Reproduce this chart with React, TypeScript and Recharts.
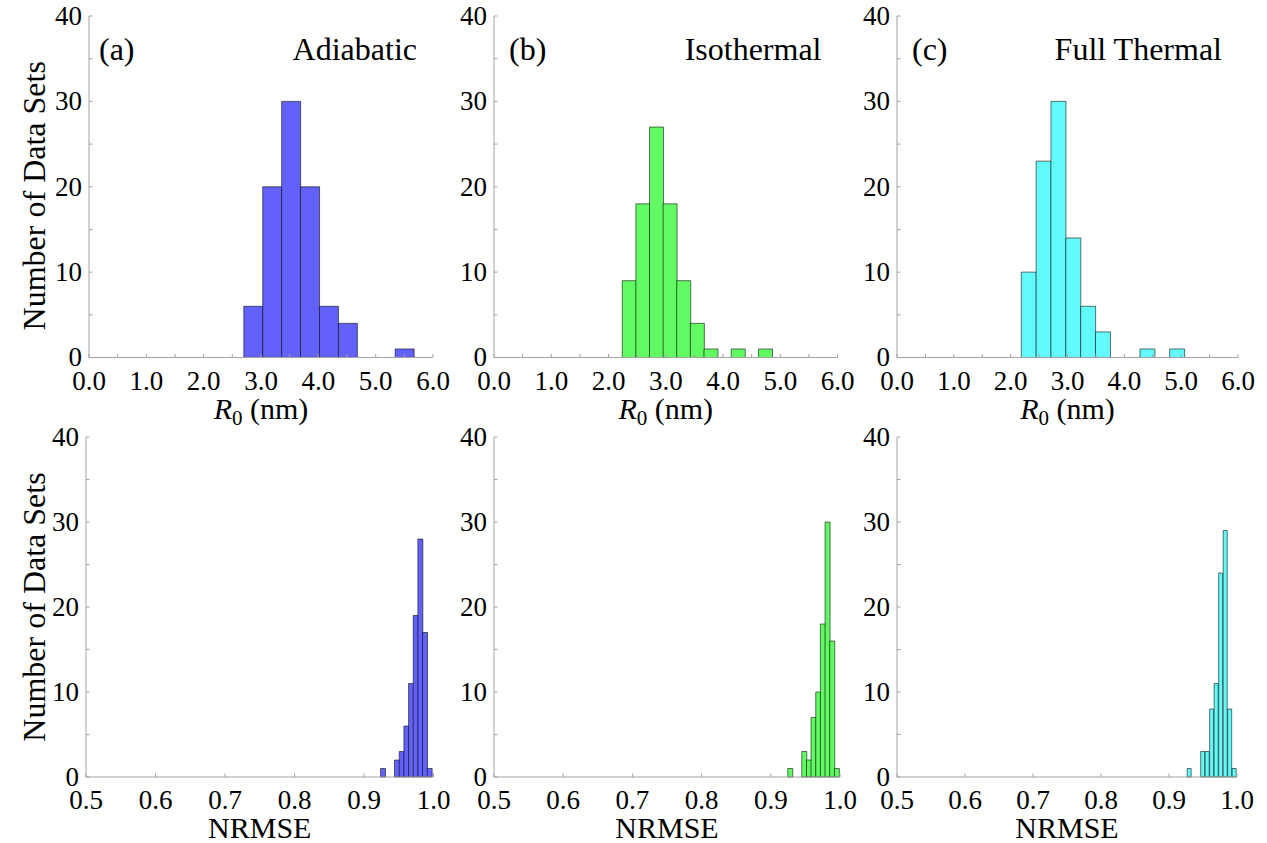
import { BarChart, Bar, XAxis, YAxis } from "recharts"

// bin edges and counts
const adiabaticR0Edges = [2.7, 3.03, 3.36, 3.69, 4.02, 4.35, 4.68, 5.01, 5.34, 5.67]
const adiabaticR0Counts = [6, 20, 30, 20, 6, 4, 0, 0, 1]

const isothermalR0Edges = [2.24, 2.478, 2.716, 2.954, 3.192, 3.43, 3.668, 3.906, 4.144, 4.382, 4.62, 4.858]
const isothermalR0Counts = [9, 18, 27, 18, 9, 4, 1, 0, 1, 0, 1]

const fullThermalR0Edges = [2.187, 2.448, 2.709, 2.97, 3.231, 3.492, 3.753, 4.014, 4.275, 4.536, 4.797, 5.058]
const fullThermalR0Counts = [10, 23, 30, 14, 6, 3, 0, 0, 1, 0, 1]

const adiabaticErrEdges = [0.9238, 0.9305, 0.9372, 0.9439, 0.9506, 0.9574, 0.9641, 0.9708, 0.9775, 0.9842, 0.9909, 0.9976]
const adiabaticErrCounts = [1, 0, 0, 2, 3, 6, 11, 19, 28, 17, 1]

const isothermalErrEdges = [0.9245, 0.9312, 0.938, 0.9447, 0.9515, 0.9582, 0.9649, 0.9717, 0.9784, 0.9852, 0.9919, 0.9986]
const isothermalErrCounts = [1, 0, 0, 3, 2, 7, 10, 18, 30, 16, 1]

const fullThermalErrEdges = [0.9267, 0.9333, 0.9399, 0.9466, 0.9532, 0.9598, 0.9664, 0.973, 0.9797, 0.9863, 0.9929, 0.9995]
const fullThermalErrCounts = [1, 0, 0, 3, 3, 8, 11, 24, 29, 8, 1]

const r0Ticks = [0, 0.5, 1, 1.5, 2, 2.5, 3, 3.5, 4, 4.5, 5, 5.5, 6]
const errTicks = [0.5, 0.6, 0.7, 0.8, 0.9, 1.0]
const countTicks = [0, 5, 10, 15, 20, 25, 30, 35, 40]

const FONT = '"Liberation Serif", "Times New Roman", Times, serif'
const AXIS = "#a3a3a3"
const TICK = 3.5
const Y_W = 85
const TOP_PAD = 15
const X_H = 75
const RIGHT_PAD = 28

const toBins = (edges: number[], counts: number[]) =>
  counts.map((count, i) => ({ x: (edges[i] + edges[i + 1]) / 2, count }))

type PanelProps = {
  data: { x: number; count: number }[]
  box: [number, number, number, number]
  xDomain: [number, number]
  xTicks: number[]
  labelTick: (v: number) => boolean
  fmt: (v: number) => string
  fill: string
  xTitle: "r0" | "err"
  tag?: string
  name?: string
  tagDx?: number
  yTitle?: boolean
  yTitleDy?: number
}

function Panel({ data, box, xDomain, xTicks, labelTick, fmt, fill, xTitle, tag, name, tagDx = 12, yTitle, yTitleDy = 0 }: PanelProps) {
  const [L, R, T, B] = box
  const w = R - L + Y_W + RIGHT_PAD
  const h = B - T + TOP_PAD + X_H
  const chartLeft = L - Y_W
  return (
    <div style={{ position: "absolute", left: chartLeft, top: T - TOP_PAD, width: w, height: h }}>
      <BarChart width={w} height={h} data={data} margin={{ top: TOP_PAD, right: RIGHT_PAD, left: 0, bottom: 0 }}
        barCategoryGap={0} barGap={0} style={{ overflow: "visible" }}>
        <XAxis dataKey="x" type="number" domain={xDomain} ticks={xTicks} interval={0} allowDataOverflow
          height={X_H} tickSize={0} tickMargin={0} tickLine={false} axisLine={{ stroke: AXIS }}
          tick={(p: any) => (
            <g>
              <line x1={p.x} x2={p.x} y1={p.y} y2={p.y - TICK} stroke={AXIS} />
              {labelTick(p.payload.value) && (
                <text x={p.x} y={p.y + 32} textAnchor="middle" fontFamily={FONT} fontSize={27} fill="#000">
                  {fmt(p.payload.value)}
                </text>
              )}
            </g>
          )}
          label={(p: any) => {
            const vb = p.viewBox
            return (
              <text x={vb.x + vb.width / 2} y={vb.y + 61} textAnchor="middle" fontFamily={FONT} fontSize={30} fill="#000">
                {xTitle === "r0" ? (
                  <>
                    <tspan fontStyle="italic">R</tspan>
                    <tspan dy={6} fontSize={21}>0</tspan>
                    <tspan dy={-6}> (nm)</tspan>
                  </>
                ) : (
                  "NRMSE"
                )}
              </text>
            )
          }}
        />
        <XAxis xAxisId="top" orientation="top" dataKey="x" type="number" domain={xDomain} ticks={xTicks} interval={0}
          allowDataOverflow height={0} tickSize={0} tickMargin={0} tickLine={false} axisLine={{ stroke: AXIS }}
          tick={(p: any) => <line x1={p.x} x2={p.x} y1={p.y} y2={p.y + TICK} stroke={AXIS} />}
        />
        <YAxis type="number" domain={[0, 40]} ticks={countTicks} interval={0} width={Y_W}
          tickSize={0} tickMargin={0} tickLine={false} axisLine={{ stroke: AXIS }}
          tick={(p: any) => (
            <g>
              <line x1={p.x} x2={p.x + TICK} y1={p.y} y2={p.y} stroke={AXIS} />
              {p.payload.value % 10 === 0 && (
                <text x={p.x - 7} y={p.y} dy="0.33em" textAnchor="end" fontFamily={FONT} fontSize={27} fill="#000">
                  {p.payload.value}
                </text>
              )}
            </g>
          )}
          label={(p: any) => {
            if (!yTitle) return null
            const vb = p.viewBox
            const cx = 44 - chartLeft
            const cy = vb.y + vb.height / 2 + yTitleDy
            return (
              <text x={cx} y={cy} transform={`rotate(-90 ${cx} ${cy})`} textAnchor="middle" fontFamily={FONT} fontSize={32} fill="#000">
                Number of Data Sets
              </text>
            )
          }}
        />
        <YAxis yAxisId="right" orientation="right" type="number" domain={[0, 40]} ticks={countTicks} interval={0}
          width={0} tickSize={0} tickMargin={0} tickLine={false} axisLine={{ stroke: AXIS }}
          tick={(p: any) => <line x1={p.x} x2={p.x - TICK} y1={p.y} y2={p.y} stroke={AXIS} />}
        />
        <Bar dataKey="count" fill={fill} stroke="#000" strokeOpacity={0.55} strokeWidth={1} isAnimationActive={false} />
      </BarChart>
      {tag && (
        <svg width={w} height={80} style={{ position: "absolute", left: 0, top: 0, pointerEvents: "none" }}>
          <g fontFamily={FONT} fontSize={32} fill="#000">
            <text x={Y_W + tagDx} y={TOP_PAD + 44}>{tag}</text>
            <text x={Y_W + (R - L) - 16} y={TOP_PAD + 44} textAnchor="end">{name}</text>
          </g>
        </svg>
      )}
    </div>
  )
}

const r0Fmt = (v: number) => v.toFixed(1)
const r0Label = (v: number) => Number.isInteger(v)
const errFmt = (v: number) => v.toFixed(1)
const errLabel = () => true

export default function App() {
  return (
    <div style={{ position: "absolute", left: 0, top: 0, width: 1267, height: 843, background: "#fff", overflow: "hidden" }}>
      <Panel data={toBins(adiabaticR0Edges, adiabaticR0Counts)} box={[88.5, 432.5, 15.5, 357]} xDomain={[0, 6]}
        xTicks={r0Ticks} labelTick={r0Label} fmt={r0Fmt} fill="#6262fa" xTitle="r0" tag="(a)" name="Adiabatic" tagDx={10} yTitle yTitleDy={9} />
      <Panel data={toBins(isothermalR0Edges, isothermalR0Counts)} box={[493.5, 837, 15.5, 357]} xDomain={[0, 6]}
        xTicks={r0Ticks} labelTick={r0Label} fmt={r0Fmt} fill="#62fa62" xTitle="r0" tag="(b)" name="Isothermal" tagDx={15} />
      <Panel data={toBins(fullThermalR0Edges, fullThermalR0Counts)} box={[897, 1238, 15.5, 357]} xDomain={[0, 6]}
        xTicks={r0Ticks} labelTick={r0Label} fmt={r0Fmt} fill="#62fafa" xTitle="r0" tag="(c)" name="Full Thermal" tagDx={15} />
      <Panel data={toBins(adiabaticErrEdges, adiabaticErrCounts)} box={[85.5, 433, 437, 777]} xDomain={[0.5, 1]}
        xTicks={errTicks} labelTick={errLabel} fmt={errFmt} fill="#6262fa" xTitle="err" yTitle />
      <Panel data={toBins(isothermalErrEdges, isothermalErrCounts)} box={[494, 840, 437, 777]} xDomain={[0.5, 1]}
        xTicks={errTicks} labelTick={errLabel} fmt={errFmt} fill="#62fa62" xTitle="err" />
      <Panel data={toBins(fullThermalErrEdges, fullThermalErrCounts)} box={[897, 1237, 437, 777]} xDomain={[0.5, 1]}
        xTicks={errTicks} labelTick={errLabel} fmt={errFmt} fill="#62fafa" xTitle="err" />
    </div>
  )
}
